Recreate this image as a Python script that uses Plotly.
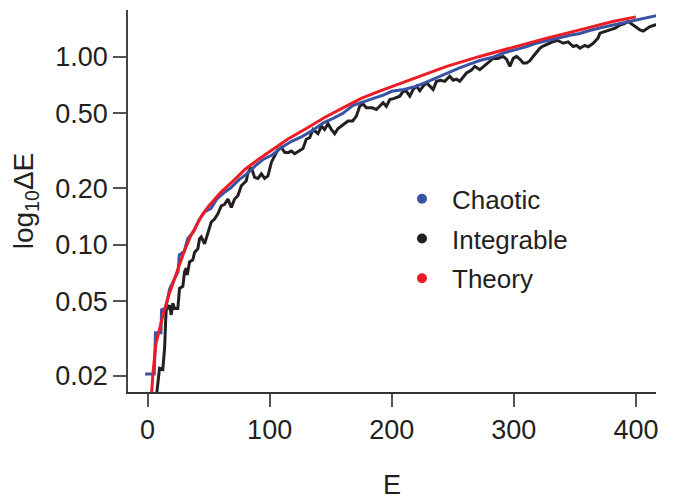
import plotly.graph_objects as go

# Theory curve (smooth)
theory_e = [3, 4.5, 7, 10, 13, 17, 21, 25, 30, 35, 40, 45, 50, 60, 70, 80, 90, 100,
            115, 130, 145, 160, 175, 190, 205, 220, 245, 272, 300, 327, 354, 381, 400]
theory_de = [0.0150, 0.021, 0.030, 0.036, 0.043, 0.053, 0.063, 0.074, 0.092, 0.110,
             0.127, 0.145, 0.160, 0.190, 0.218, 0.252, 0.282, 0.312, 0.365, 0.415,
             0.475, 0.535, 0.600, 0.656, 0.711, 0.775, 0.889, 1.004, 1.13, 1.256,
             1.39, 1.54, 1.63]

# Chaotic spectrum (step-like, just under theory)
chaotic_e = [-2, 5.5, 6.5, 11, 11.5, 15, 18, 22, 25, 26, 30, 33, 38, 42, 47, 52, 57, 63,
             68, 75, 82, 88, 95, 102, 110, 118, 126, 135, 144, 152, 160, 168, 176, 185,
             193, 200, 210, 218, 228, 238, 245, 255, 265, 272, 282, 292, 300, 310, 318,
             327, 337, 346, 354, 362, 372, 381, 390, 398, 404, 410, 418]
chaotic_de = [0.0205, 0.0205, 0.034, 0.034, 0.045, 0.046, 0.058, 0.066, 0.072, 0.088,
              0.092, 0.108, 0.118, 0.135, 0.150, 0.156, 0.176, 0.190, 0.200, 0.222,
              0.240, 0.262, 0.285, 0.300, 0.330, 0.355, 0.375, 0.405, 0.445, 0.470,
              0.500, 0.550, 0.575, 0.600, 0.625, 0.655, 0.670, 0.690, 0.730, 0.780,
              0.820, 0.870, 0.920, 0.955, 0.990, 1.05, 1.085, 1.13, 1.18, 1.22, 1.26,
              1.30, 1.33, 1.38, 1.43, 1.47, 1.52, 1.56, 1.58, 1.62, 1.66]

# Integrable spectrum (noisy, below theory)
integrable_e = [7, 8.5, 9.8, 12.5, 14, 14.8, 15.3, 18, 19.4, 20.7, 22.1, 24.8, 26.2,
                28.9, 30.3, 31.7, 32.5, 34.4, 37.1, 38.5, 41.2, 42.6, 44, 46.7, 49.4,
                52.2, 54.9, 57.6, 60.4, 63.1, 65.8, 68.6, 71.3, 74, 76.8, 80.9, 82.2,
                85, 87.7, 90.4, 93.2, 95.9, 98.6, 101.4, 104.1, 106.8, 109.6, 112.3,
                115, 117.8, 120.5, 124, 127.3, 130, 132.8, 135.5, 139.6, 142.4, 145,
                147.8, 150.5, 153.3, 156, 158.8, 164.2, 168, 171, 173.8, 176.5, 179.2,
                184, 187.4, 192.9, 195.6, 198.4, 202, 206.6, 209.3, 212, 214.8, 217.5,
                220.2, 223, 225.7, 228.4, 231, 233.9, 236.6, 240, 243.4, 247.5, 250.3,
                253, 255.7, 258.5, 261.2, 265.3, 268, 272.1, 276.2, 280.3, 283.1, 287,
                291.2, 294, 296.7, 299.5, 302.2, 305, 307.6, 310.4, 313, 315.8, 318.6,
                321.3, 324, 328, 332.2, 336, 340.4, 344.5, 348.6, 351.4, 354.1, 358,
                360.9, 365, 369, 370.5, 374.6, 378.7, 383, 386.9, 390.5, 393.7, 396.5,
                399.2, 403.3, 406, 409, 411.5, 415.6, 418]
integrable_de = [0.015, 0.0195, 0.022, 0.0217, 0.0282, 0.039, 0.0449, 0.0476, 0.0423,
                 0.0488, 0.0457, 0.0457, 0.0585, 0.060, 0.0717, 0.075, 0.069, 0.081,
                 0.083, 0.091, 0.095, 0.1076, 0.110, 0.101, 0.114, 0.132, 0.137, 0.146,
                 0.161, 0.164, 0.175, 0.158, 0.175, 0.182, 0.206, 0.219, 0.242, 0.257,
                 0.228, 0.225, 0.238, 0.225, 0.232, 0.274, 0.297, 0.320, 0.329, 0.310,
                 0.309, 0.315, 0.305, 0.315, 0.325, 0.364, 0.371, 0.410, 0.390, 0.428,
                 0.410, 0.440, 0.411, 0.390, 0.415, 0.428, 0.455, 0.455, 0.483, 0.546,
                 0.560, 0.535, 0.535, 0.524, 0.570, 0.545, 0.592, 0.600, 0.617, 0.655,
                 0.655, 0.617, 0.669, 0.697, 0.660, 0.697, 0.726, 0.700, 0.669, 0.740,
                 0.750, 0.740, 0.787, 0.750, 0.760, 0.740, 0.780, 0.820, 0.850, 0.889,
                 0.853, 0.900, 0.944, 0.980, 0.980, 1.004, 0.970, 0.889, 0.980, 1.004,
                 0.970, 0.926, 0.926, 0.950, 1.004, 1.06, 1.11, 1.14, 1.17, 1.205, 1.22,
                 1.18, 1.20, 1.134, 1.15, 1.11, 1.15, 1.13, 1.18, 1.26, 1.335, 1.36,
                 1.39, 1.42, 1.476, 1.50, 1.54, 1.49, 1.447, 1.39, 1.37, 1.42, 1.447,
                 1.476, 1.49]

y_tick_vals = [0.02, 0.05, 0.10, 0.20, 0.50, 1.00]
y_tick_text = ["0.02", "0.05", "0.10", "0.20", "0.50", "1.00"]
x_tick_vals = [0, 100, 200, 300, 400]

BLUE = "#3953a4"
BLACK = "#231f20"
RED = "#ed1c24"
FONT = "Liberation Sans, Arial, sans-serif"

fig = go.Figure()

# Data lines (legend is drawn with dot markers below)
fig.add_trace(go.Scatter(x=integrable_e, y=integrable_de, mode="lines",
                         line=dict(color=BLACK, width=3), showlegend=False))
fig.add_trace(go.Scatter(x=chaotic_e, y=chaotic_de, mode="lines",
                         line=dict(color=BLUE, width=3), showlegend=False))
fig.add_trace(go.Scatter(x=theory_e, y=theory_de, mode="lines",
                         line=dict(color=RED, width=3), showlegend=False))

# Legend entries with round dots
for name, color in [("Chaotic", BLUE), ("Integrable", BLACK), ("Theory", RED)]:
    fig.add_trace(go.Scatter(x=[None], y=[None], mode="markers", name=name,
                             legendgroup=name,
                             marker=dict(color=color, size=10)))

fig.update_xaxes(
    range=[-16, 416.4],
    tickvals=x_tick_vals,
    showline=True, linecolor="#333333", linewidth=1.5,
    ticks="outside", ticklen=13, tickwidth=1.5, tickcolor="#555555",
    showgrid=False, zeroline=False,
    tickfont=dict(size=27, color=BLACK),
    title=dict(text="E", font=dict(size=27, color=BLACK), standoff=34),
)

fig.update_yaxes(
    type="log",
    range=[-1.784, 0.2488],
    tickvals=y_tick_vals, ticktext=y_tick_text,
    showline=True, linecolor="#444444", linewidth=1.5,
    ticks="outside", ticklen=13, tickwidth=1.5, tickcolor="#555555",
    showgrid=False, zeroline=False,
    tickfont=dict(size=27, color=BLACK),
    title=dict(text="log<sub>10</sub>ΔE", font=dict(size=28, color=BLACK), standoff=14),
)

# the page body adds an 8 px offset, so the figure is shrunk to fit the window
fig.update_layout(
    width=674, height=492,
    margin=dict(l=120, r=26, t=2, b=106),
    paper_bgcolor="white", plot_bgcolor="white",
    font=dict(family=FONT, color=BLACK),
    legend=dict(
        x=0.50, y=0.401, xanchor="left", yanchor="middle",
        font=dict(size=26, color=BLACK),
        tracegroupgap=3, itemwidth=50,
        bgcolor="rgba(0,0,0,0)",
    ),
)

fig.write_html("out.html")
